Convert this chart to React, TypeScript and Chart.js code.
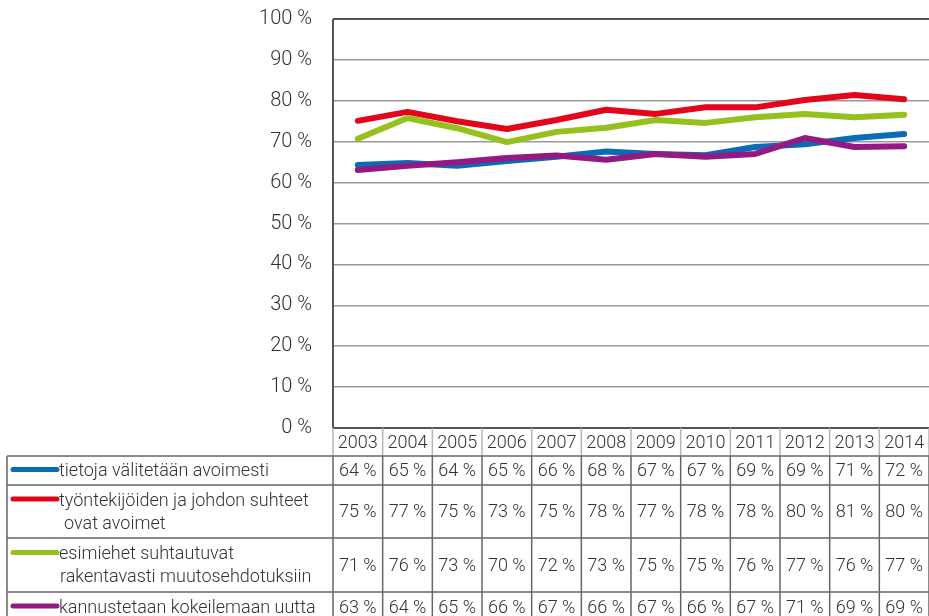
import React, { useEffect, useRef } from 'react';
import { Chart, registerables } from 'chart.js';

Chart.register(...registerables);

// ---- data ----
const years = ['2003', '2004', '2005', '2006', '2007', '2008', '2009', '2010', '2011', '2012', '2013', '2014'];
const tietojaValitetaan = [64.3, 64.8, 64.1, 65.3, 66.3, 67.6, 67.0, 66.7, 68.7, 69.4, 70.9, 71.9];
const tyontekijoidenSuhteet = [75.1, 77.3, 75.0, 73.1, 75.3, 77.8, 76.8, 78.4, 78.4, 80.2, 81.4, 80.4];
const esimiehetSuhtautuvat = [70.7, 75.8, 73.3, 69.9, 72.4, 73.4, 75.3, 74.6, 76.0, 76.8, 76.0, 76.6];
const kannustetaanKokeilemaan = [63.1, 64.1, 65.0, 66.0, 66.6, 65.6, 67.0, 66.3, 67.0, 70.9, 68.7, 68.9];
const seriesLabels = [
  ['tietoja välitetään avoimesti'],
  ['työntekijöiden ja johdon suhteet', 'ovat avoimet'],
  ['esimiehet suhtautuvat', 'rakentavasti muutosehdotuksiin'],
  ['kannustetaan kokeilemaan uutta'],
];
const seriesValues = [tietojaValitetaan, tyontekijoidenSuhteet, esimiehetSuhtautuvat, kannustetaanKokeilemaan];
const seriesColors = ['#0a6cb4', '#e3051b', '#95c11f', '#931a83'];

const W = 929;
const H = 616;
const FONT = 'Roboto, "Liberation Sans", sans-serif';
const TEXT = '#333';

// table geometry (style constants)
const headerH = 28;
const rowHeights = [29, 53, 54, 30];
const tableLeft = 7;

const tablePlugin = {
  id: 'tablePlugin',
  beforeDatasetsDraw(chart: any) {
    const { ctx, chartArea } = chart;
    ctx.save();
    ctx.strokeStyle = '#555';
    ctx.lineWidth = 2;
    ctx.beginPath();
    ctx.moveTo(chartArea.left, chartArea.top);
    ctx.lineTo(chartArea.right, chartArea.top);
    ctx.moveTo(chartArea.left, chartArea.top);
    ctx.lineTo(chartArea.left, chartArea.bottom);
    ctx.moveTo(chartArea.left, chartArea.bottom);
    ctx.lineTo(chartArea.right, chartArea.bottom);
    ctx.stroke();
    ctx.restore();
  },
  afterDraw(chart: any) {
    const { ctx, chartArea } = chart;
    const x = chart.scales.x;
    const n = years.length;
    const colW = (chartArea.right - chartArea.left) / n;
    const left = chartArea.left;
    const top = chartArea.bottom;
    const headerBottom = top + headerH;
    ctx.save();
    // header verticals (light)
    ctx.strokeStyle = '#b5b5b5';
    ctx.lineWidth = 1.5;
    ctx.beginPath();
    for (let i = 0; i <= n; i++) {
      const vx = left + i * colW;
      ctx.moveTo(vx, top);
      ctx.lineTo(vx, headerBottom);
    }
    ctx.stroke();
    // year labels
    ctx.fillStyle = TEXT;
    ctx.font = `300 18px ${FONT}`;
    ctx.textAlign = 'center';
    ctx.textBaseline = 'middle';
    years.forEach((y, i) => {
      ctx.fillText(y, x.getPixelForValue(i), top + headerH / 2 + 1);
    });
    // rows
    let rowTop = headerBottom;
    const rowTops: number[] = [];
    rowHeights.forEach((h) => {
      rowTops.push(rowTop);
      rowTop += h;
    });
    const tableBottom = rowTop;
    ctx.strokeStyle = '#666';
    ctx.lineWidth = 1.5;
    ctx.beginPath();
    rowTops.concat([tableBottom]).forEach((ry) => {
      ctx.moveTo(tableLeft, ry);
      ctx.lineTo(chartArea.right, ry);
    });
    ctx.moveTo(tableLeft, headerBottom);
    ctx.lineTo(tableLeft, tableBottom);
    for (let i = 0; i <= n; i++) {
      const vx = left + i * colW;
      ctx.moveTo(vx, headerBottom);
      ctx.lineTo(vx, tableBottom);
    }
    ctx.stroke();

    seriesValues.forEach((vals, r) => {
      const rt = rowTops[r];
      const rh = rowHeights[r];
      const cy = rt + rh / 2;
      const lines = seriesLabels[r];
      const lineGap = 23;
      const firstY = cy - ((lines.length - 1) * lineGap) / 2;
      // swatch
      ctx.strokeStyle = seriesColors[r];
      ctx.lineWidth = 5;
      ctx.lineCap = 'round';
      ctx.beginPath();
      ctx.moveTo(13, firstY - 1);
      ctx.lineTo(57, firstY - 1);
      ctx.stroke();
      // label
      ctx.fillStyle = TEXT;
      ctx.font = `300 18px ${FONT}`;
      ctx.textAlign = 'left';
      ctx.textBaseline = 'middle';
      lines.forEach((t, li) => {
        ctx.fillText(t, li === 0 ? 59 : r === 1 ? 64 : 60, firstY + li * lineGap + 1);
      });
      // values
      ctx.textAlign = 'center';
      vals.forEach((v, i) => {
        ctx.fillText(`${Math.round(v)} %`, x.getPixelForValue(i), cy + 1);
      });
    });
    ctx.restore();
  },
};

export default function App() {
  const ref = useRef<HTMLCanvasElement | null>(null);
  useEffect(() => {
    document.body.style.margin = '0';
    const canvas = ref.current!;
    const chart = new Chart(canvas, {
      type: 'line',
      data: {
        labels: years,
        datasets: seriesValues.map((vals, i) => ({
          label: seriesLabels[i].join(' '),
          data: vals,
          borderColor: seriesColors[i],
          backgroundColor: seriesColors[i],
          borderWidth: 6,
          pointRadius: 0,
          tension: 0,
          borderCapStyle: 'round',
          borderJoinStyle: 'round',
          order: seriesValues.length - i,
        })) as any,
      },
      options: {
        responsive: false,
        animation: false,
        devicePixelRatio: 1,
        layout: { padding: { top: 19, right: 0, bottom: 188, left: 0 } },
        plugins: { legend: { display: false }, tooltip: { enabled: false } },
        scales: {
          x: { type: 'category', offset: true, display: false },
          y: {
            min: 0,
            max: 100,
            ticks: {
              stepSize: 10,
              padding: 0,
              color: TEXT,
              font: { family: FONT, size: 20, weight: '300' as any },
              callback: (v: any) => `${v} %`,
            },
            grid: {
              color: '#999',
              lineWidth: 1.5,
              drawTicks: true,
              tickLength: 21,
              tickColor: 'rgba(0,0,0,0)',
            },
            border: { display: false },
            afterFit: (s: any) => {
              s.width = 333;
            },
          },
        },
      },
      plugins: [tablePlugin],
    });
    return () => chart.destroy();
  }, []);
  return (
    <div style={{ width: W, height: H }}>
      <canvas ref={ref} width={W} height={H} style={{ width: W, height: H, display: 'block' }} />
    </div>
  );
}
